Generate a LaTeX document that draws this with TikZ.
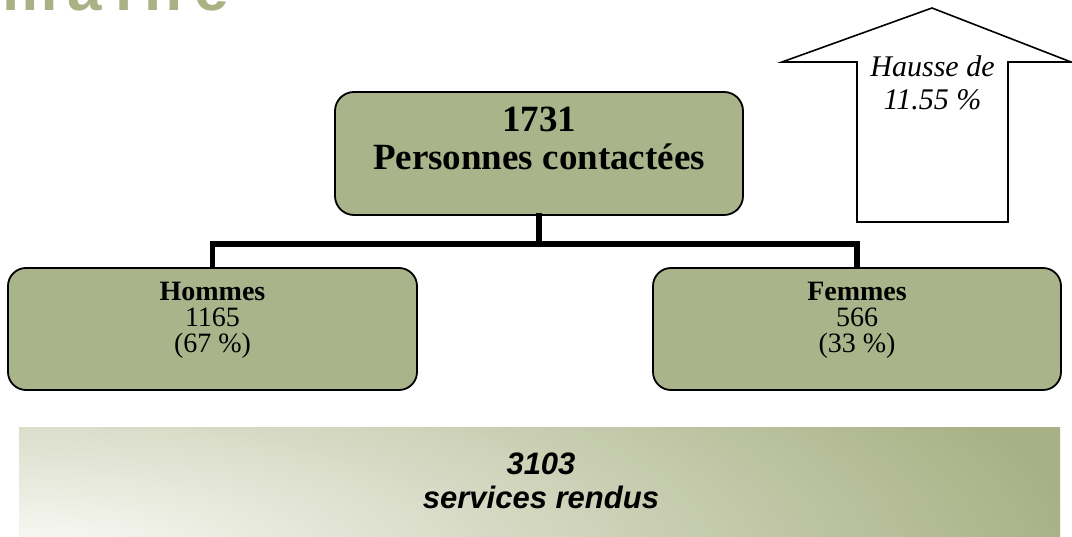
\documentclass[tikz,border=0pt]{standalone}
\usepackage{fontspec}
\setmainfont{Liberation Serif}
\newfontfamily\arialf{Liberation Sans}
\definecolor{olivebox}{RGB}{170,180,138}
\definecolor{olivebg}{RGB}{168,177,133}
\definecolor{lightbg}{RGB}{252,252,249}
\definecolor{titlegreen}{RGB}{168,178,132}
\begin{document}
\begin{tikzpicture}[x=1pt,y=-1pt,
  greenbox/.style={draw=black, line width=1.8pt, fill=olivebox, rounded corners=19pt, inner sep=0pt},
  bigtext/.style={font=\bfseries\fontsize{37}{38}\selectfont, anchor=base, inner sep=0pt},
  smallbold/.style={font=\bfseries\fontsize{28}{27}\selectfont, anchor=base, inner sep=0pt},
  smalltext/.style={font=\fontsize{28}{27}\selectfont, anchor=base, inner sep=0pt},
  arrowtext/.style={font=\itshape\fontsize{30}{33}\selectfont, anchor=base, inner sep=0pt},
  bandtext/.style={font=\arialf\bfseries\itshape\fontsize{31}{33}\selectfont, anchor=base, inner sep=0pt},
  tree/.style={line width=5.5pt, draw=black}
]
\useasboundingbox (0,0) rectangle (1072,537);
\fill[white] (0,0) rectangle (1072,537);

% cut-off title
\begin{scope}
\clip (0,0) rectangle (1072,537);
\node[anchor=base west, inner sep=0pt, text=titlegreen, font=\arialf\bfseries\fontsize{62}{62}\selectfont] (title) at (2,10.5) {m\hspace{10pt}a\hspace{14pt}i\hspace{12pt}n\hspace{12pt}e};
\end{scope}

% boxes
\node[greenbox, minimum width=408pt, minimum height=123pt] (top) at (539,153.5) {};
\node[bigtext] (topA) at (539,132) {1731};
\node[bigtext] (topB) at (539,170) {Personnes contactées};

\node[greenbox, rounded corners=18pt, minimum width=409pt, minimum height=122pt] (men) at (212.5,329) {};
\node[smallbold] (menA) at (212.5,301) {Hommes};
\node[smalltext] (menB) at (212.5,327) {1165};
\node[smalltext] (menC) at (212.5,353) {(67~\%)};

\node[greenbox, rounded corners=18pt, minimum width=408pt, minimum height=122pt] (women) at (857,329) {};
\node[smallbold] (womenA) at (857,301) {Femmes};
\node[smalltext] (womenB) at (857,327) {566};
\node[smalltext] (womenC) at (857,353) {(33~\%)};

% connectors
\coordinate (split) at (539,244);
\draw[tree, line cap=rect] (top.south) -- (split);
\draw[tree] (split) -| (men.north);
\draw[tree] (split) -| (women.north);

% arrow
\draw[line width=1.6pt, fill=white, line join=miter]
  (782,62) -- (932,8) -- (1071,62) -- (1008,62) -- (1008,222) -- (857,222) -- (857,62) -- cycle;
\node[arrowtext] (upA) at (932.5,77) {Hausse de};
\node[arrowtext] (upB) at (932.5,110) {11.55~\%};

% bottom band
\begin{scope}
\clip (19,428) rectangle (1060,537);
\fill[olivebg] (19,428) rectangle (1060,537);
\shade[inner color=lightbg, outer color=olivebg] (19-1060,560-330) rectangle (19+1060,560+330);
\end{scope}
\node[bandtext] (bandA) at (541,475) {3103};
\node[bandtext] (bandB) at (541,508) {services rendus};
\end{tikzpicture}
\end{document}
